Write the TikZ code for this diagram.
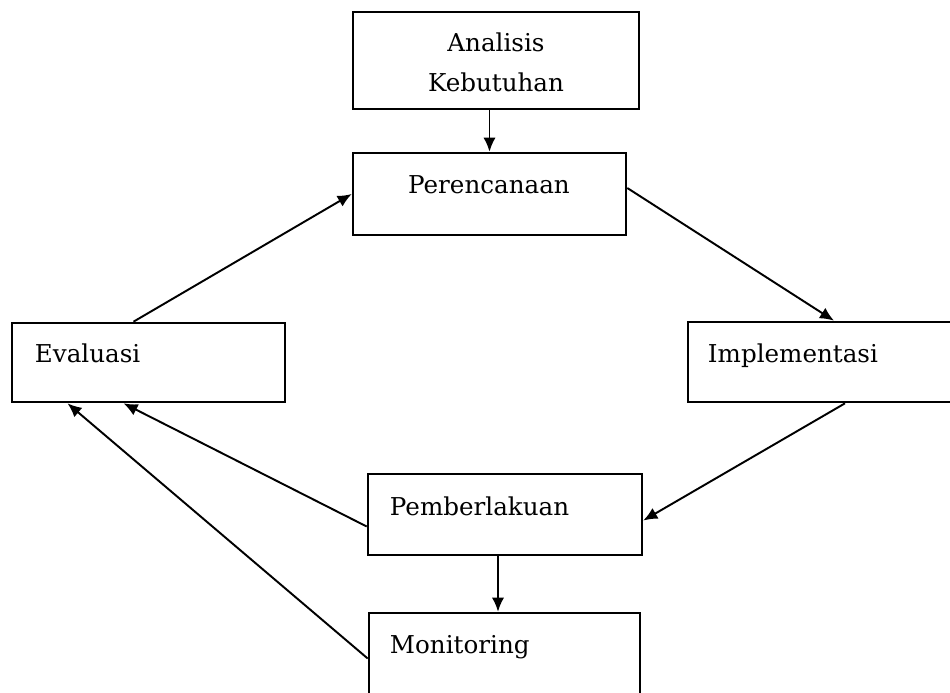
\documentclass[tikz,border=0pt]{standalone}
\usepackage{fontspec}
\setmainfont{DejaVu Serif}
\usetikzlibrary{calc}
\usetikzlibrary{arrows.meta}
\tikzset{
  every picture/.style={
    line width=1.1pt,
    >={Latex[width=7pt, length=8pt]}
  },
  box/.style 2 args={
    draw, line width=1.5pt, inner sep=0pt,
    minimum width=#1, minimum height=#2
  },
  txt/.style={
    inner sep=0pt, font=\fontsize{14}{22.7}\selectfont
  }
}

\begin{document}
\begin{tikzpicture}[x=0.02cm, y=-0.02cm]
    \useasboundingbox (0,0) rectangle (950,693);
    \clip (0,0) rectangle (950,693);
    \fill [white] (0,0) rectangle (950,693);
    % boxes
    \node [box={5.72cm}{1.94cm}] (anal) at (496,60.5) {};
    \node [box={5.46cm}{1.64cm}] (plan) at (489.5,194) {};
    \node [box={5.46cm}{1.58cm}] (eval) at (148.5,362.5) {};
    \node [box={5.84cm}{1.6cm}] (impl) at (834,362) {};
    \node [box={5.48cm}{1.62cm}] (pemb) at (505,514.5) {};
    \node [box={5.42cm}{2.14cm}] (mon) at (504.5,666.5) {};
    % texts
    \node [txt, align=center] (analtxt) at (496,62) {Analisis\\Kebutuhan};
    \node [txt, anchor=base] (plantxt) at (489,193) {Perencanaan};
    \node [txt, anchor=base west] (evaltxt) at (34,362) {Evaluasi};
    \node [txt, anchor=base west] (impltxt) at (707,362) {Implementasi};
    \node [txt, anchor=base west] (pembtxt) at (389,515) {Pemberlakuan};
    \node [txt, anchor=base west] (montxt) at (389,653) {Monitoring};
    % arrows
    \draw [->] (anal.south -| plan.north) -- (plan.north);
    \draw [->] ($(eval.north)+(-15,0)$) -- (plan.west);
    \draw [->] ($(plan.east)+(0,-6)$) -- (impl.north);
    \draw [->] ($(impl.south)+(11,0)$) -- ($(pemb.east)+(0,6)$);
    \draw [->] ($(pemb.west)+(0,12)$) -- ($(eval.south)+(-25,0)$);
    \draw [->] ($(mon.west)+(0,-8)$) -- ($(eval.south)+(-81,0)$);
    \coordinate (pm) at ($(pemb.south)+(-7,0)$);
    \draw [->] (pm) -- (pm |- mon.north);
  \end{tikzpicture}
\end{document}
